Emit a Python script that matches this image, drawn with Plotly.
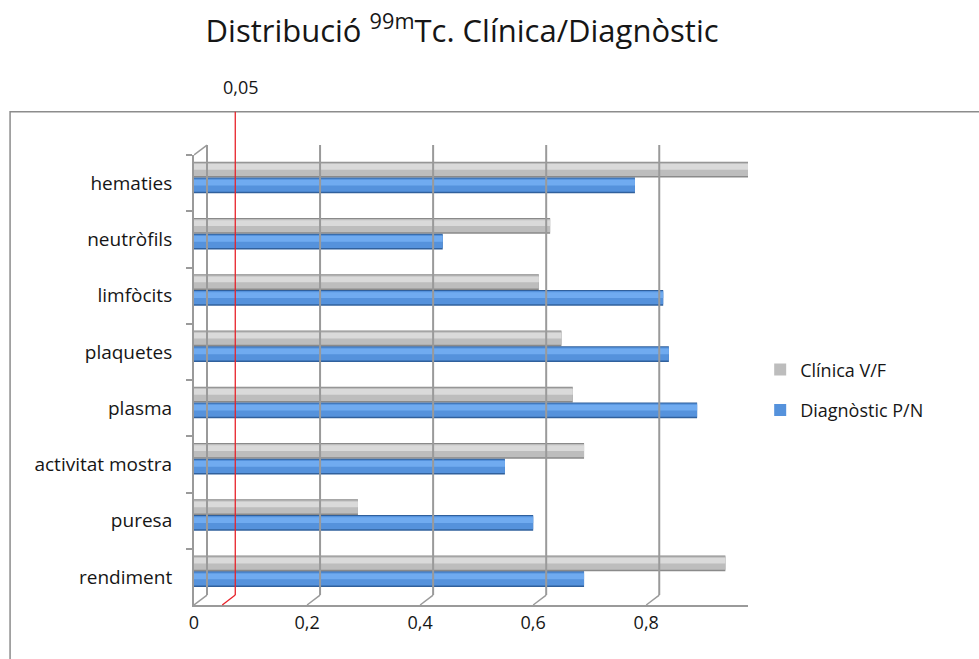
import plotly.graph_objects as go

# Categories from top to bottom
categories = ["hematies", "neutròfils", "limfòcits", "plaquetes", "plasma",
              "activitat mostra", "puresa", "rendiment"]
clinica = [0.98, 0.63, 0.61, 0.65, 0.67, 0.69, 0.29, 0.94]
diagnostic = [0.78, 0.44, 0.83, 0.84, 0.89, 0.55, 0.60, 0.69]
series_names = ["Clínica V/F", "Diagnòstic P/N"]
x_ticks = [0, 0.2, 0.4, 0.6, 0.8]
x_tick_labels = ["0", "0,2", "0,4", "0,6", "0,8"]
threshold = 0.05
threshold_label = "0,05"

FONT = "Open Sans"
TEXT = "#161616"
GRID = "#9a9a9a"
DEPTH_X = 0.023   # back-wall shift along x (data units)
DEPTH_Y = 0.022   # back-wall shift along y (paper units)

fig = go.Figure()


def cylinder(values, name, group, offset, width, shades):
    """Draw one series as layered bars giving a rounded, cylinder-like look."""
    edge, body, light = shades
    layers = [
        (edge, offset, width, False),
        (body, offset + 0.018, width - 0.045, True),
        (light, offset + 0.04, width * 0.36, False),
    ]
    for color, off, w, legend in layers:
        fig.add_trace(go.Bar(
            x=values, y=categories, orientation="h", name=name,
            legendgroup=group, showlegend=legend,
            marker=dict(color=color, line=dict(width=0)),
            offset=off, width=w, hoverinfo="x+y",
        ))


cylinder(clinica, series_names[0], "a", -0.38, 0.28,
         ("#8a8a8a", "#bdbdbd", "#dadada"))
cylinder(diagnostic, series_names[1], "b", -0.10, 0.28,
         ("#30609c", "#5592dc", "#70abf0"))

shapes = []
# back-wall gridlines with the floor diagonals joining them to the front axis
for v in x_ticks:
    shapes.append(dict(type="line", xref="x", yref="paper",
                       x0=v + DEPTH_X, x1=v + DEPTH_X, y0=DEPTH_Y, y1=1 + DEPTH_Y,
                       line=dict(color=GRID, width=2)))
    shapes.append(dict(type="line", xref="x", yref="paper",
                       x0=v, x1=v + DEPTH_X, y0=0, y1=DEPTH_Y,
                       line=dict(color=GRID, width=1.5)))
# top-left corner of the side wall
shapes.append(dict(type="line", xref="x", yref="paper",
                   x0=0, x1=DEPTH_X, y0=1, y1=1 + DEPTH_Y,
                   line=dict(color=GRID, width=1.5)))
# threshold line
shapes.append(dict(type="line", xref="x", yref="paper",
                   x0=threshold + DEPTH_X, x1=threshold + DEPTH_X,
                   y0=DEPTH_Y, y1=1.096, line=dict(color="#e8222a", width=1.3)))
shapes.append(dict(type="line", xref="x", yref="paper",
                   x0=threshold, x1=threshold + DEPTH_X, y0=0, y1=DEPTH_Y,
                   line=dict(color="#e8222a", width=1.3)))
# chart border
shapes.append(dict(type="rect", xref="paper", yref="paper",
                   x0=-0.332, x1=1.45, y0=-0.2, y1=1.096,
                   line=dict(color="#8c8c8c", width=1.5), layer="below"))

fig.update_layout(
    width=979, height=659,
    margin=dict(l=194, r=231, t=155, b=54),
    paper_bgcolor="white", plot_bgcolor="rgba(0,0,0,0)",
    barmode="overlay",
    font=dict(family=FONT, size=19, color=TEXT),
    title=dict(text="Distribució <sup>99m</sup>Tc. Clínica/Diagnòstic",
               x=0.472, xanchor="center", y=0.952, yanchor="middle",
               yref="container", font=dict(family=FONT, size=31, color=TEXT)),
    xaxis=dict(range=[0, 0.98], tickvals=x_ticks, ticktext=x_tick_labels,
               showgrid=False, zeroline=False, showline=True,
               linecolor=GRID, linewidth=2, ticks="",
               tickfont=dict(size=18, color=TEXT), fixedrange=True),
    yaxis=dict(categoryorder="array", categoryarray=categories,
               autorange="reversed", showline=True, linecolor=GRID, linewidth=2,
               ticks="outside", ticklen=6, tickcolor=GRID, tickwidth=1.5,
               tickson="boundaries", showgrid=False, ticklabelstandoff=16,
               tickfont=dict(size=19, color=TEXT), fixedrange=True),
    legend=dict(x=1.022, xanchor="left", y=0.478, yanchor="middle",
                traceorder="grouped", tracegroupgap=14,
                font=dict(size=18, color=TEXT), bgcolor="rgba(0,0,0,0)"),
    shapes=shapes,
    annotations=[dict(text=threshold_label, xref="x", yref="paper",
                      x=threshold + DEPTH_X, y=1.151, xshift=6, yanchor="middle",
                      showarrow=False, font=dict(size=18, color=TEXT))],
)

fig.write_html("out.html")
